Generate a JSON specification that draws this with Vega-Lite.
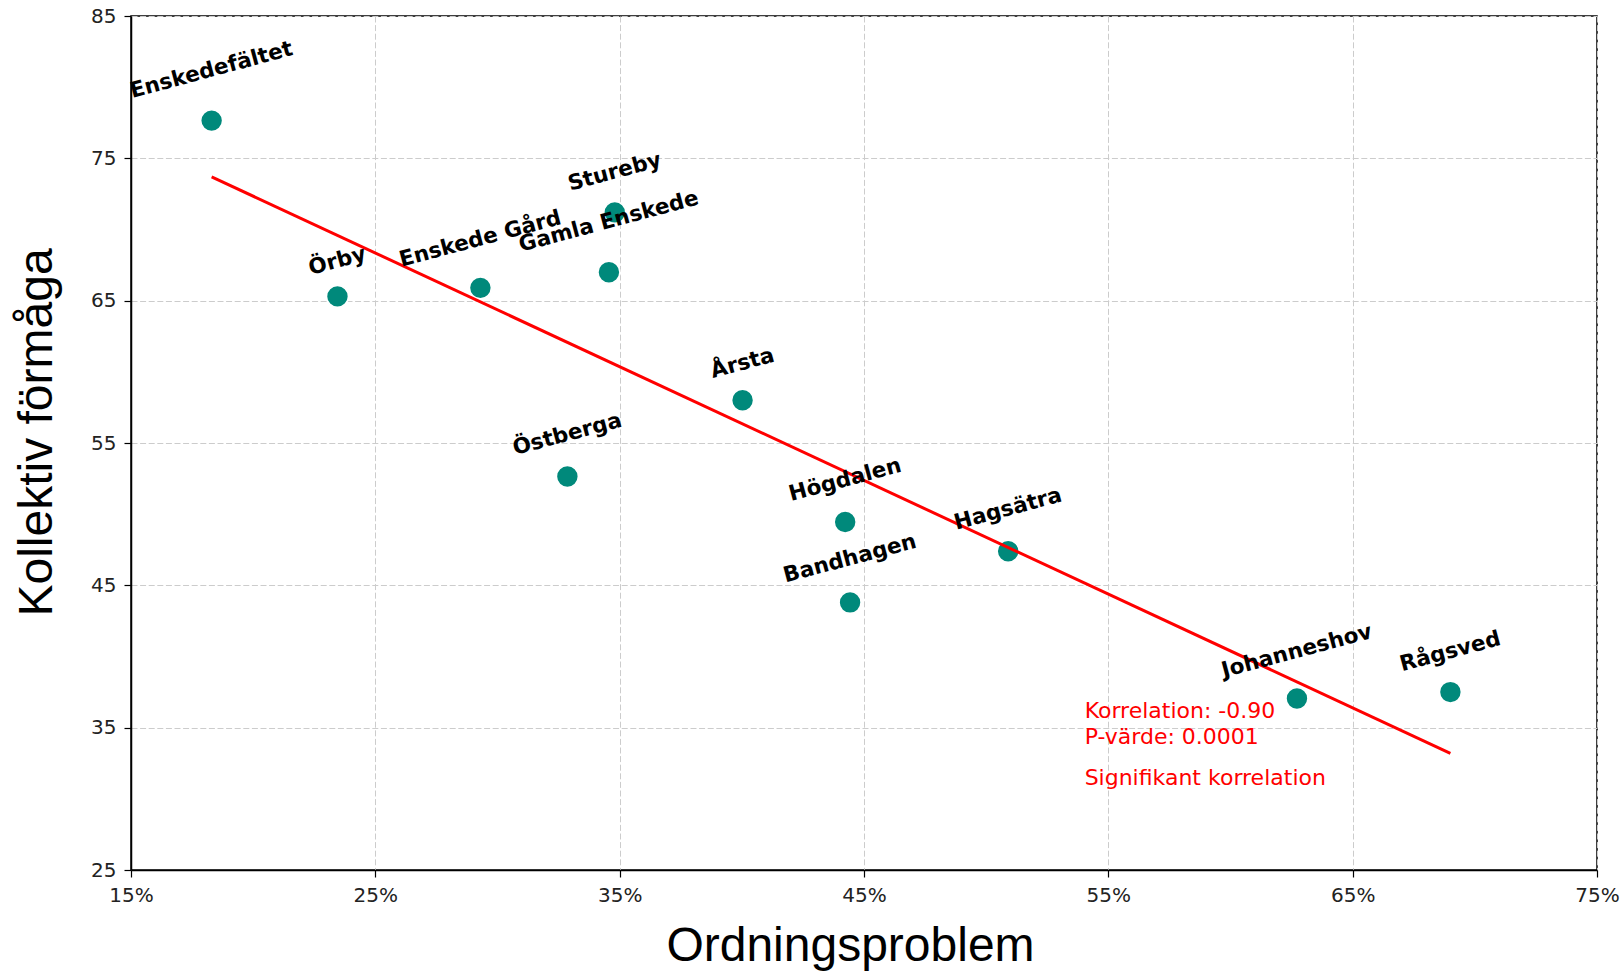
{
  "$schema": "https://vega.github.io/schema/vega-lite/v6.json",
  "width": 1466,
  "height": 854,
  "autosize": "none",
  "padding": {"left": 131, "top": 16, "right": 24, "bottom": 101},
  "background": "white",
  "config": {
    "view": {"stroke": "black", "strokeWidth": 1.5}
  },
  "datasets": {
    "points": [
      {"name": "Enskedefältet", "ordning": 0.183, "kollektiv": 77.65},
      {"name": "Örby", "ordning": 0.2345, "kollektiv": 65.3},
      {"name": "Enskede Gård", "ordning": 0.293, "kollektiv": 65.9},
      {"name": "Gamla Enskede", "ordning": 0.3456, "kollektiv": 67.0},
      {"name": "Stureby", "ordning": 0.348, "kollektiv": 71.2},
      {"name": "Östberga", "ordning": 0.3286, "kollektiv": 52.65},
      {"name": "Årsta", "ordning": 0.4003, "kollektiv": 58.0},
      {"name": "Högdalen", "ordning": 0.4423, "kollektiv": 49.45},
      {"name": "Bandhagen", "ordning": 0.4443, "kollektiv": 43.8},
      {"name": "Hagsätra", "ordning": 0.509, "kollektiv": 47.4},
      {"name": "Johanneshov", "ordning": 0.6272, "kollektiv": 37.05},
      {"name": "Rågsved", "ordning": 0.69, "kollektiv": 37.5}
    ],
    "fit": [
      {"ordning": 0.183, "kollektiv": 73.7},
      {"ordning": 0.69, "kollektiv": 33.2}
    ]
  },
  "layer": [
    {
      "encoding": {
        "x": {
          "field": "ordning",
          "type": "quantitative",
          "scale": {"domain": [0.15, 0.75], "nice": false, "zero": false},
          "axis": {
            "values": [0.15, 0.25, 0.35, 0.45, 0.55, 0.65, 0.75],
            "format": ".0%",
            "title": "Ordningsproblem",
            "grid": true,
            "gridDash": [6, 2.6],
            "gridColor": "#cccccc",
            "gridWidth": 1,
            "domainColor": "black",
            "domainWidth": 1.5,
            "tickColor": "black",
            "tickSize": 7,
            "tickWidth": 1.2,
            "labelFont": "DejaVu Sans",
            "labelFontSize": 20,
            "labelColor": "#222222",
            "labelPadding": 8,
            "labelFlush": false,
            "labelOverlap": false,
            "labelBound": false,
            "titleFont": "Liberation Sans",
            "titleFontSize": 48,
            "titleFontWeight": "normal",
            "titleColor": "black",
            "titleX": 719,
            "titleY": 90,
            "titleAlign": "center",
            "titleBaseline": "alphabetic"
          }
        },
        "y": {
          "field": "kollektiv",
          "type": "quantitative",
          "scale": {"domain": [25, 85], "nice": false, "zero": false},
          "axis": {
            "values": [25, 35, 45, 55, 65, 75, 85],
            "title": "Kollektiv förmåga",
            "grid": true,
            "gridDash": [6, 2.6],
            "gridColor": "#cccccc",
            "gridWidth": 1,
            "domainColor": "black",
            "domainWidth": 1.5,
            "tickColor": "black",
            "tickSize": 7,
            "tickWidth": 1.2,
            "labelFont": "DejaVu Sans",
            "labelFontSize": 20,
            "labelColor": "#222222",
            "labelPadding": 8,
            "labelFlush": false,
            "labelOverlap": false,
            "labelBound": false,
            "titleFont": "Liberation Sans",
            "titleFontSize": 48,
            "titleFontWeight": "normal",
            "titleColor": "black",
            "titleAngle": -90,
            "titleX": -94,
            "titleY": 416,
            "titleAlign": "center",
            "titleBaseline": "middle"
          }
        }
      },
      "layer": [
        {
          "data": {"name": "points"},
          "mark": {"type": "circle", "size": 480, "fill": "#00897b", "stroke": "white", "strokeWidth": 1.5, "opacity": 1}
        },
        {
          "data": {"name": "fit"},
          "mark": {"type": "line", "color": "#ff0000", "strokeWidth": 3}
        },
        {
          "data": {"name": "points"},
          "mark": {
            "type": "text",
            "angle": -15,
            "font": "DejaVu Sans",
            "fontWeight": "bold",
            "fontSize": 21.5,
            "align": "center",
            "baseline": "middle",
            "color": "black",
            "radius": {"expr": "28 + 1.7 * length(datum.name)"},
            "theta": 0
          },
          "encoding": {"text": {"field": "name", "type": "nominal"}}
        }
      ]
    },
    {
      "data": {"values": [{}]},
      "mark": {"type": "text", "font": "DejaVu Sans", "fontSize": 22, "color": "#ff0000", "align": "left", "baseline": "alphabetic", "text": "Korrelation: -0.90"},
      "encoding": {"x": {"datum": 0.5403, "type": "quantitative"}, "y": {"datum": 35.65, "type": "quantitative"}}
    },
    {
      "data": {"values": [{}]},
      "mark": {"type": "text", "font": "DejaVu Sans", "fontSize": 22, "color": "#ff0000", "align": "left", "baseline": "alphabetic", "text": "P-värde: 0.0001"},
      "encoding": {"x": {"datum": 0.5403, "type": "quantitative"}, "y": {"datum": 33.85, "type": "quantitative"}}
    },
    {
      "data": {"values": [{}]},
      "mark": {"type": "text", "font": "DejaVu Sans", "fontSize": 22, "color": "#ff0000", "align": "left", "baseline": "alphabetic", "text": "Signifikant korrelation"},
      "encoding": {"x": {"datum": 0.5403, "type": "quantitative"}, "y": {"datum": 30.95, "type": "quantitative"}}
    }
  ]
}
